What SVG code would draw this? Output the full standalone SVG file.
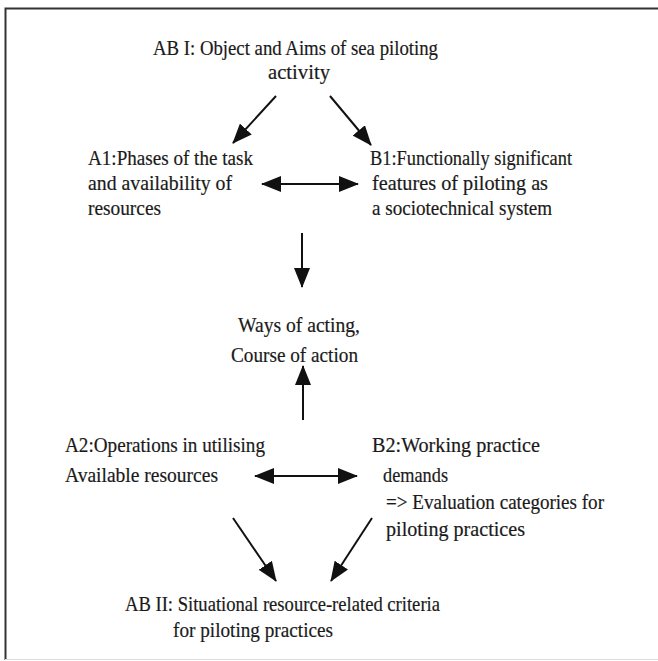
<svg xmlns="http://www.w3.org/2000/svg" width="658" height="661" viewBox="0 0 658 661">
  <defs>
    <marker id="head" viewBox="0 0 20 16" refX="19" refY="8" markerWidth="20" markerHeight="16" markerUnits="userSpaceOnUse" orient="auto-start-reverse">
      <path d="M0,0 L20,8 L0,16 Z" fill="#111"/>
    </marker>
    <style>
      text { font-family: "Liberation Serif", "Times New Roman", serif; font-size: 21px; fill: #1a1a1a; stroke: #1a1a1a; stroke-width: 0.2; }
      .conn { stroke: #111; stroke-width: 2; fill: none; }
      .frame { stroke: #333; stroke-width: 2; fill: none; }
    </style>
  </defs>
  <rect width="658" height="661" fill="#ffffff"/>

  <!-- outer frame: top and left rules, faint bottom rule -->
  <path class="frame" d="M5.5,660 L5.5,8.5 L658,8.5"/>
  <path d="M5,659.5 L658,659.5" stroke="#ddd" stroke-width="1"/>

  <g id="ab1">
    <text x="153" y="55" textLength="285" lengthAdjust="spacingAndGlyphs">AB I: Object and Aims of sea piloting</text>
    <text x="268" y="79" textLength="62" lengthAdjust="spacingAndGlyphs">activity</text>
  </g>

  <g id="a1">
    <text x="88" y="165" textLength="165" lengthAdjust="spacingAndGlyphs">A1:Phases of the task</text>
    <text x="88" y="190" textLength="144" lengthAdjust="spacingAndGlyphs">and availability of</text>
    <text x="88" y="215" textLength="73" lengthAdjust="spacingAndGlyphs">resources</text>
  </g>

  <g id="b1">
    <text x="370" y="165" textLength="202" lengthAdjust="spacingAndGlyphs">B1:Functionally significant</text>
    <text x="372" y="190" textLength="176" lengthAdjust="spacingAndGlyphs">features of piloting as</text>
    <text x="372" y="215" textLength="180" lengthAdjust="spacingAndGlyphs">a sociotechnical system</text>
  </g>

  <g id="ways">
    <text x="238" y="332" textLength="122" lengthAdjust="spacingAndGlyphs">Ways of acting,</text>
    <text x="231" y="362" textLength="127" lengthAdjust="spacingAndGlyphs">Course of action</text>
  </g>

  <g id="a2">
    <text x="65" y="452" textLength="200" lengthAdjust="spacingAndGlyphs">A2:Operations in utilising</text>
    <text x="65" y="482" textLength="153" lengthAdjust="spacingAndGlyphs">Available resources</text>
  </g>

  <g id="b2">
    <text x="372" y="452" textLength="168" lengthAdjust="spacingAndGlyphs">B2:Working practice</text>
    <text x="383" y="482" textLength="65" lengthAdjust="spacingAndGlyphs">demands</text>
    <text x="386" y="509" textLength="218" lengthAdjust="spacingAndGlyphs">=&gt; Evaluation categories for</text>
    <text x="386" y="536" textLength="139" lengthAdjust="spacingAndGlyphs">piloting  practices</text>
  </g>

  <g id="ab2">
    <text x="125" y="611" textLength="315" lengthAdjust="spacingAndGlyphs">AB II: Situational resource-related criteria</text>
    <text x="173" y="637" textLength="160" lengthAdjust="spacingAndGlyphs">for piloting practices</text>
  </g>

  <g id="connectors">
    <line class="conn" x1="276" y1="96" x2="233" y2="143" marker-end="url(#head)"/>
    <line class="conn" x1="330" y1="96" x2="371" y2="145" marker-end="url(#head)"/>
    <line class="conn" x1="262" y1="184" x2="358" y2="184" marker-start="url(#head)" marker-end="url(#head)"/>
    <line class="conn" x1="302" y1="233" x2="302" y2="287" marker-end="url(#head)"/>
    <line class="conn" x1="303" y1="420" x2="303" y2="366" marker-end="url(#head)"/>
    <line class="conn" x1="255" y1="476" x2="357" y2="476" marker-start="url(#head)" marker-end="url(#head)"/>
    <line class="conn" x1="233" y1="518" x2="276" y2="581" marker-end="url(#head)"/>
    <line class="conn" x1="372" y1="518" x2="331" y2="581" marker-end="url(#head)"/>
  </g>
</svg>
